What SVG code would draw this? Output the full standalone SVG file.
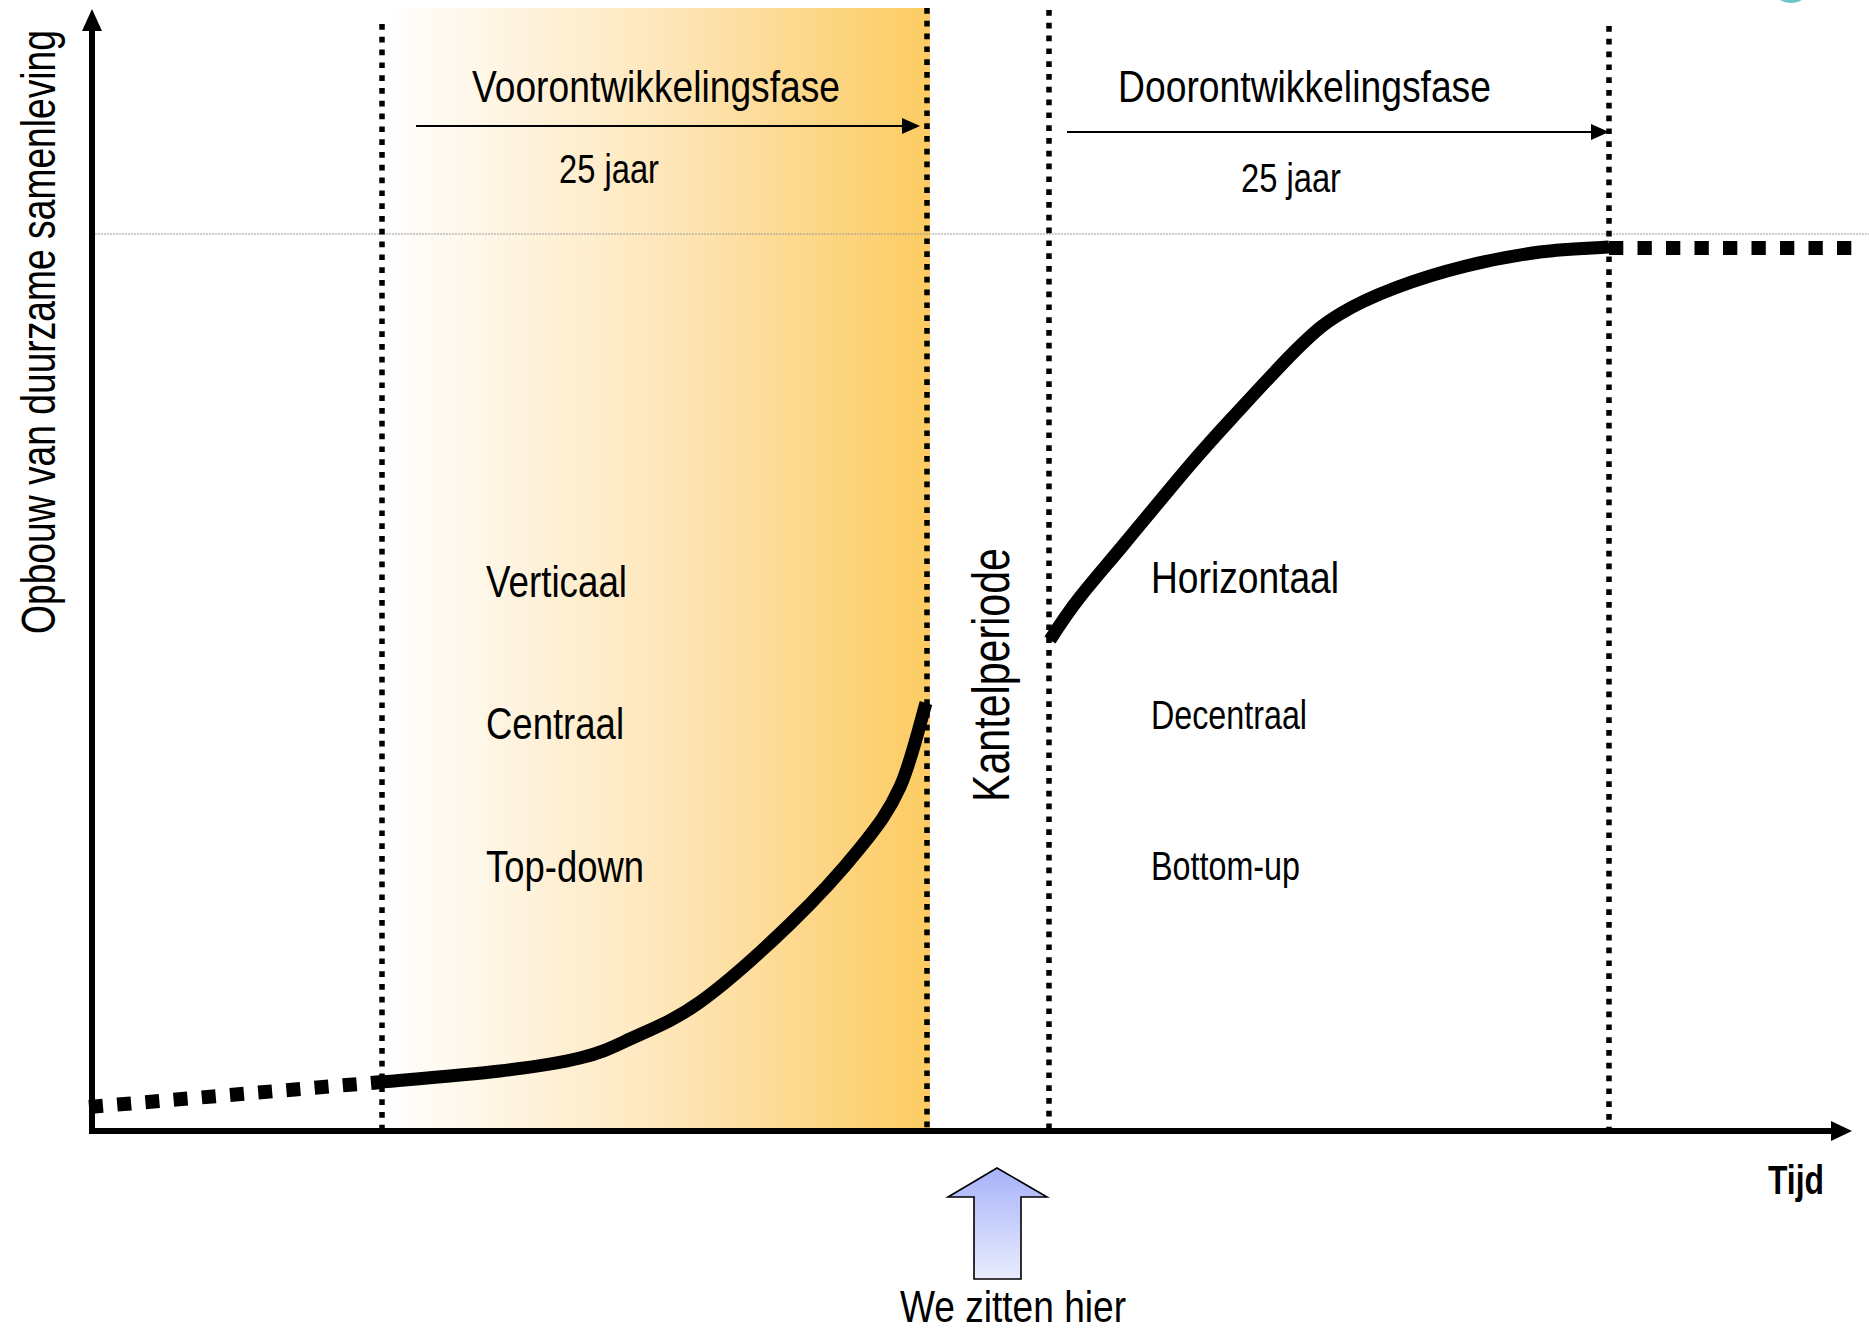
<svg xmlns="http://www.w3.org/2000/svg" width="1869" height="1329" viewBox="0 0 1869 1329">
<defs>
<linearGradient id="phaseGrad" x1="0" y1="0" x2="1" y2="0">
<stop offset="0" stop-color="#FFFFFF"/>
<stop offset="0.5" stop-color="#FEE7BC"/>
<stop offset="1" stop-color="#FCCB62"/>
</linearGradient>
<linearGradient id="blueGrad" x1="0" y1="0" x2="0" y2="1">
<stop offset="0" stop-color="#A7B2FA"/>
<stop offset="1" stop-color="#E8ECFD"/>
</linearGradient>
<style>
.t{font-family:"Liberation Sans Narrow","Liberation Sans",Arial,sans-serif;fill:#000;}
.big{font-size:45px;}
.small{font-size:40px;}
.vdot{stroke:#000;stroke-width:5.5;stroke-dasharray:5.7 7.1;fill:none;}
.axis{stroke:#000;stroke-width:6;fill:none;}
.curve{stroke:#000;stroke-width:13;fill:none;stroke-linecap:butt;stroke-linejoin:round;}
.dcurve{stroke:#000;stroke-width:14;fill:none;}
.thin{stroke:#000;stroke-width:2;fill:none;}
</style>
</defs>
<rect width="1869" height="1329" fill="#FFFFFF"/>
<ellipse cx="1791" cy="-10" rx="17" ry="13" fill="#6FC4CA"/>

<g id="phase-voorontwikkeling">
<rect x="385" y="8" width="545" height="1122" fill="url(#phaseGrad)"/>
</g>

<g id="reference-line">
<line x1="92" y1="234" x2="1869" y2="234" stroke="#9A9A9A" stroke-width="1" stroke-dasharray="2 1"/>
</g>

<g id="phase-boundaries">
<line class="vdot" x1="382" y1="24" x2="382" y2="1128"/>
<line class="vdot" x1="927" y1="8" x2="927" y2="1128"/>
<line class="vdot" x1="1049" y1="10" x2="1049" y2="1128"/>
<line class="vdot" x1="1609" y1="26" x2="1609" y2="1128"/>
</g>

<g id="axes">
<line class="axis" x1="92" y1="1134" x2="92" y2="26"/>
<polygon points="92,9 82,31 102,31" fill="#000"/>
<line class="axis" x1="89" y1="1131" x2="1836" y2="1131"/>
<polygon points="1852,1131 1831,1121 1831,1141" fill="#000"/>
</g>

<g id="connectors">
<line class="thin" x1="416" y1="126" x2="904" y2="126"/>
<polygon points="902,118 920,126 902,134" fill="#000"/>
<line class="thin" x1="1067" y1="132" x2="1593" y2="132"/>
<polygon points="1591,124 1609,132 1591,140" fill="#000"/>
</g>

<g id="curve">
<line class="dcurve" x1="89" y1="1107" x2="382" y2="1082" stroke-dasharray="14 14.3"/>
<path class="curve" d="M380,1082 C400,1080.2 466.7,1075 500,1071 C533.3,1067 558.3,1063.3 580,1058 C601.7,1052.7 610,1048.3 630,1039 C650,1029.7 673.3,1021.2 700,1002 C726.7,982.8 763.3,949.7 790,924 C816.7,898.3 841.7,870.8 860,848 C878.3,825.2 889,811.2 900,787 C911,762.8 921.7,717 926,703"/>
<path class="curve" d="M1050,640 C1056.7,629.5 1067.8,612.5 1080,597 C1092.2,581.5 1106.7,565 1125,543 C1143.3,521 1172.2,485.8 1190,465 C1207.8,444.2 1213.7,437.8 1232,418 C1250.3,398.2 1282,363.3 1300,346 C1318,328.7 1324.2,323.7 1340,314 C1355.8,304.3 1374,296 1395,288 C1416,280 1441.8,272 1466,266 C1490.2,260 1516.2,255.2 1540,252 C1563.8,248.8 1597.5,247.8 1609,247"/>
<line class="dcurve" x1="1609" y1="248" x2="1852" y2="248" stroke-width="14.5" stroke-dasharray="14.3 14.2"/>
</g>

<g id="label-y-axis">
<text class="t" font-size="48" transform="translate(55,634) rotate(-90)" textLength="604" lengthAdjust="spacingAndGlyphs">Opbouw van duurzame samenleving</text>
</g>
<g id="label-x-axis">
<text class="t" x="1768" y="1194" font-size="40" font-weight="bold" textLength="56" lengthAdjust="spacingAndGlyphs">Tijd</text>
</g>

<g id="node-voorontwikkelingsfase">
<text class="t big" x="472" y="102" textLength="368" lengthAdjust="spacingAndGlyphs">Voorontwikkelingsfase</text>
<text class="t small" x="559" y="183" textLength="100" lengthAdjust="spacingAndGlyphs">25 jaar</text>
<text class="t big" x="486" y="597" textLength="141" lengthAdjust="spacingAndGlyphs">Verticaal</text>
<text class="t big" x="486" y="739" textLength="138" lengthAdjust="spacingAndGlyphs">Centraal</text>
<text class="t big" x="486" y="882" textLength="158" lengthAdjust="spacingAndGlyphs">Top-down</text>
</g>

<g id="node-kantelperiode">
<text class="t" font-size="51" transform="translate(1009,802) rotate(-90)" textLength="254" lengthAdjust="spacingAndGlyphs">Kantelperiode</text>
</g>

<g id="node-doorontwikkelingsfase">
<text class="t big" x="1118" y="102" textLength="373" lengthAdjust="spacingAndGlyphs">Doorontwikkelingsfase</text>
<text class="t small" x="1241" y="192" textLength="100" lengthAdjust="spacingAndGlyphs">25 jaar</text>
<text class="t big" x="1151" y="593" textLength="188" lengthAdjust="spacingAndGlyphs">Horizontaal</text>
<text class="t small" x="1151" y="729" textLength="156" lengthAdjust="spacingAndGlyphs">Decentraal</text>
<text class="t small" x="1151" y="880" textLength="149" lengthAdjust="spacingAndGlyphs">Bottom-up</text>
</g>

<g id="node-we-zitten-hier">
<polygon points="997,1168 1047,1197 1021,1197 1021,1279 974,1279 974,1197 948,1197" fill="url(#blueGrad)" stroke="#000" stroke-width="1.6" stroke-linejoin="miter"/>
<text class="t big" x="900" y="1322" textLength="226" lengthAdjust="spacingAndGlyphs">We zitten hier</text>
</g>
</svg>
